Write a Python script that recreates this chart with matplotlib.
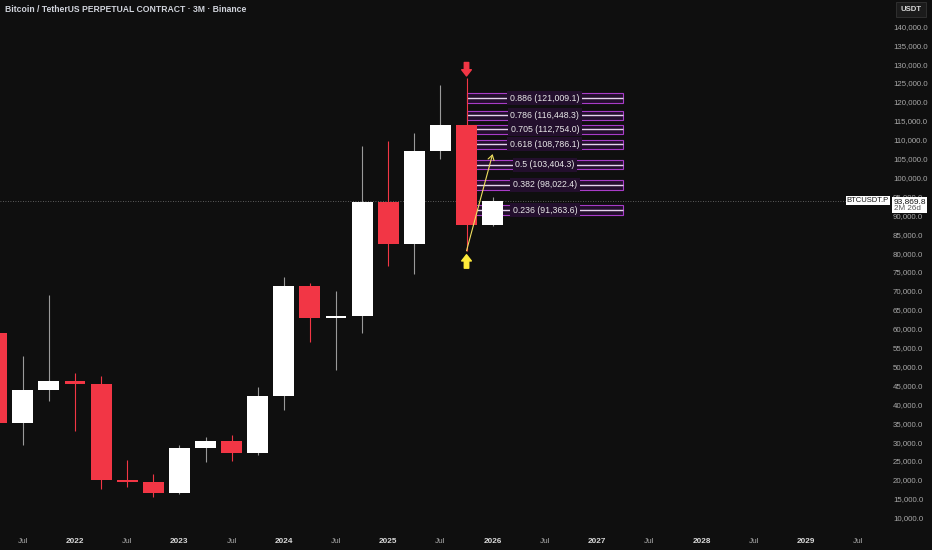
import matplotlib
matplotlib.use('Agg')
import matplotlib.pyplot as plt
from matplotlib.patches import Rectangle
import numpy as np

# quarterly candles BTCUSDT.P (3M), x = year + quarter fraction
quarters = [2021.25, 2021.5, 2021.75, 2022.0, 2022.25, 2022.5, 2022.75,
            2023.0, 2023.25, 2023.5, 2023.75, 2024.0, 2024.25, 2024.5,
            2024.75, 2025.0, 2025.25, 2025.5, 2025.75, 2026.0]
opens = [58800, 35000, 43800, 46200, 45500, 19900, 19400,
         16500, 28500, 30400, 27000, 42300, 71300, 62700,
         63300, 93400, 82500, 107100, 114000, 87500]
highs = [64800, 52900, 69000, 48200, 47400, 25200, 21500,
         29200, 31400, 31800, 44700, 73800, 72000, 70000,
         108300, 109600, 111900, 124500, 126200, 94800]
lows = [28800, 29200, 40800, 32900, 17600, 18200, 15500,
        16400, 24800, 24900, 26500, 38500, 56500, 49000,
        58800, 76600, 74500, 105000, 80600, 87300]
closes = [35000, 43800, 46200, 45500, 19900, 19400, 16500,
          28500, 30400, 27000, 42300, 71300, 62700, 63300,
          93400, 82500, 107100, 114000, 87500, 93869.8]

last_price = 93869.8
last_label = '93,869.8'
countdown = '2M 26d'

# fibonacci retracement (low 80.6k -> high 126.2k)
fib_ratios = ['0.886', '0.786', '0.705', '0.618', '0.5', '0.382', '0.236']
fib_prices = [121009.1, 116448.3, 112754.0, 108786.1, 103404.3, 98022.4, 91363.6]
fib_start = 2025.75
fib_end = 2027.25

# yellow projection arrow
proj_from = (2025.75, 80600)
proj_to = (2026.0, 106200)

xtick_pos = [2021.5, 2022, 2022.5, 2023, 2023.5, 2024, 2024.5, 2025, 2025.5,
             2026, 2026.5, 2027, 2027.5, 2028, 2028.5, 2029, 2029.5]
xtick_lab = ['Jul', '2022', 'Jul', '2023', 'Jul', '2024', 'Jul', '2025', 'Jul',
             '2026', 'Jul', '2027', 'Jul', '2028', 'Jul', '2029', 'Jul']

bg = '#0f0f0f'
bull = '#ffffff'
bear = '#f23645'

W, H = 932, 550
plot_w, plot_h = 886, 528
fig = plt.figure(figsize=(W / 100, H / 100), dpi=100)
fig.patch.set_facecolor(bg)
ax = fig.add_axes([0, 1 - plot_h / H, plot_w / W, plot_h / H])
ax.set_facecolor(bg)

ymin, ymax = 7275, 146958
ax.set_xlim(2021.2816, 2029.768)
ax.set_ylim(ymin, ymax)
px = (ymax - ymin) / plot_h  # price units per pixel

opens = np.array(opens)
closes = np.array(closes)
up = closes >= opens
body_lo = np.minimum(opens, closes)
body_h = np.maximum(np.abs(closes - opens), px)
body_col = [bull if u else bear for u in up]
wick_col = ['#9a9a9a' if u else bear for u in up]

# fib boxes (under candles)
for r, p in zip(fib_ratios, fib_prices):
    ax.add_patch(Rectangle((fib_start, p - 1250), fib_end - fib_start, 2500,
                           facecolor='#230f2d', edgecolor='#a83cc8', lw=0.8, zorder=1.5))
    ax.hlines(p, fib_start, fib_end, color='#e6d3ee', lw=1.0, zorder=1.6)
    ax.text((fib_start + fib_end) / 2, p, f'{r} ({p:,.1f})', ha='center', va='center',
            fontsize=6.3, family='Liberation Sans', color='#e8e8e8', zorder=4,
            bbox=dict(boxstyle='square,pad=0.3', facecolor='#230f2d', edgecolor='none'))

ax.axhline(last_price, color='#777777', lw=0.6, ls=(0, (1, 2)), zorder=1)

ax.vlines(quarters, lows, highs, colors=wick_col, lw=0.8, zorder=2.9)
ax.bar(quarters, body_h, bottom=body_lo, width=0.2, color=body_col, zorder=3)

# arrows at the Q4 2025 high and low
ax.annotate('', xy=(quarters[-2], highs[-2]), xytext=(0, 11.5), textcoords='offset points',
            arrowprops=dict(arrowstyle='simple,head_length=0.45,head_width=0.7,tail_width=0.32',
                            color=bear, shrinkA=0, shrinkB=1.8), zorder=5)
ax.annotate('', xy=(quarters[-2], lows[-2]), xytext=(0, -12.5), textcoords='offset points',
            arrowprops=dict(arrowstyle='simple,head_length=0.45,head_width=0.7,tail_width=0.32',
                            color='#ffeb3b', shrinkA=0, shrinkB=2.8), zorder=5)
ax.annotate('', xy=proj_to, xytext=proj_from,
            arrowprops=dict(arrowstyle='->,head_length=0.35,head_width=0.22',
                            color='#f0e060', lw=0.8, shrinkA=0, shrinkB=0), zorder=5)

for s in ax.spines.values():
    s.set_visible(False)

ax.yaxis.tick_right()
ax.set_yticks(np.arange(10000, 140001, 5000))
ax.yaxis.set_major_formatter(matplotlib.ticker.StrMethodFormatter('{x:,.1f}'))
ax.tick_params(axis='y', length=0, pad=5, labelsize=5.7, labelcolor='#a8a8a8')
for t in ax.get_yticklabels():
    t.set_family('Liberation Sans')

ax.set_xticks(xtick_pos)
ax.set_xticklabels(xtick_lab)
ax.tick_params(axis='x', length=0, pad=7, labelsize=5.9, labelcolor='#a8a8a8')
for t in ax.get_xticklabels():
    t.set_family('Liberation Sans')
    if t.get_text() != 'Jul':
        t.set_fontweight('bold')
        t.set_color('#d8d8d8')

# last price labels
ytr = ax.get_yaxis_transform()
ax.text(0.9557, last_price, 'BTCUSDT.P', transform=ytr, ha='left', va='center',
        fontsize=5.5, family='Liberation Sans', color='#131313', clip_on=False, zorder=6,
        bbox=dict(boxstyle='square,pad=0.15', facecolor='white', edgecolor='none'))
ax.add_patch(Rectangle((1.0068, last_price - 12.3 * px), 0.0395, 15.8 * px, transform=ytr,
                       facecolor='white', edgecolor='none', clip_on=False, zorder=6))
ax.text(1.0085, last_price - 0.6 * px, last_label, transform=ytr, ha='left', va='center',
        fontsize=6.0, family='Liberation Sans', color='#131313', clip_on=False, zorder=7)
ax.text(1.0085, last_price - 8.3 * px, countdown, transform=ytr, ha='left', va='center',
        fontsize=5.8, family='Liberation Sans', color='#555555', clip_on=False, zorder=7)

fig.text(5 / W, 1 - 9.5 / H, 'Bitcoin / TetherUS PERPETUAL CONTRACT · 3M · Binance',
         ha='left', va='center', fontsize=6.2, family='Liberation Sans', fontweight='bold',
         color='#d1d4dc')
fig.text(911 / W, 1 - 9.5 / H, 'USDT', ha='center', va='center', fontsize=5.6,
         family='Liberation Sans', fontweight='bold', color='#d8d8d8',
         bbox=dict(boxstyle='square,pad=0.55', facecolor='#1b1b1b', edgecolor='#333333', lw=0.6))

fig.savefig('out.png', dpi=100, facecolor=bg)
